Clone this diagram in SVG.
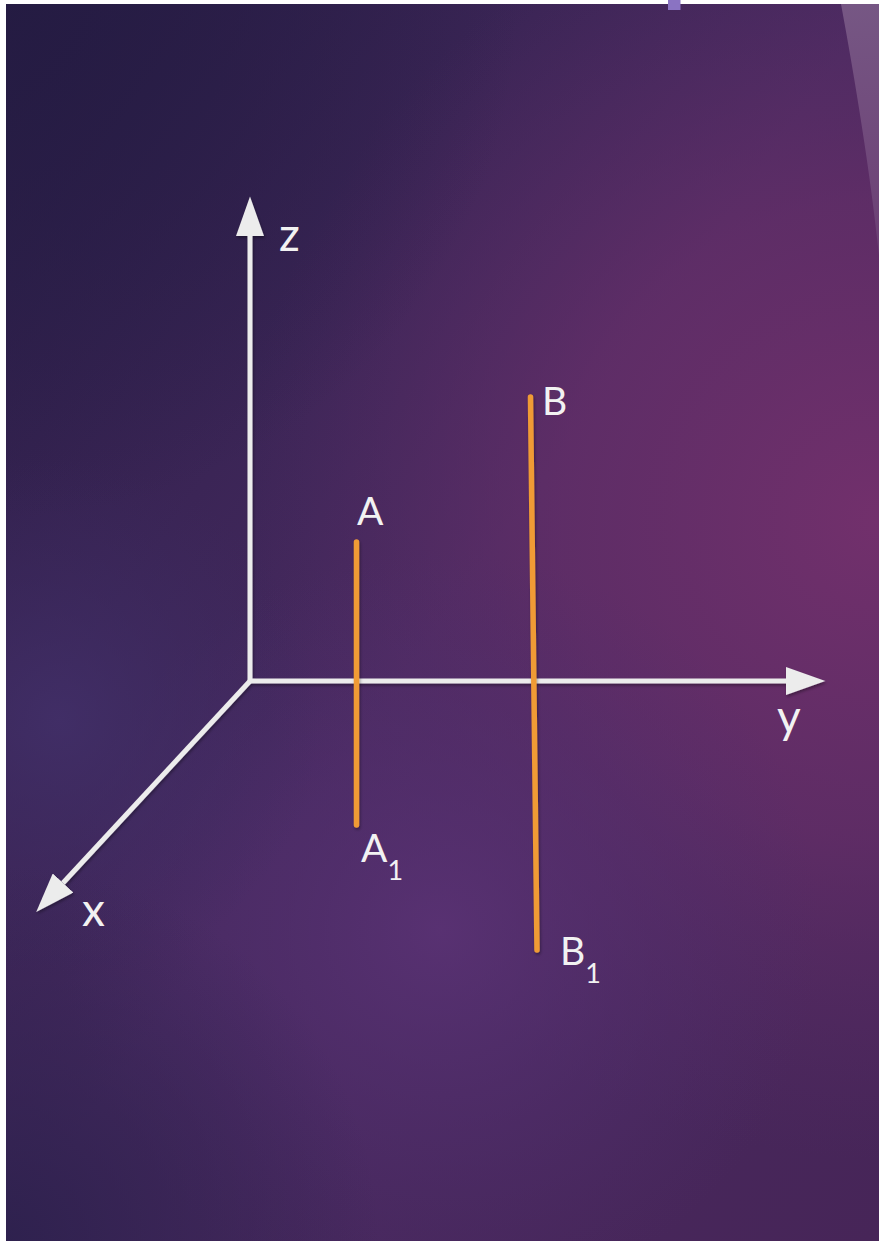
<svg xmlns="http://www.w3.org/2000/svg" width="879" height="1243" viewBox="0 0 879 1243">
<defs>
<style>
.axis{stroke:#ececec;stroke-width:5;fill:none;stroke-linecap:butt}
.seg{stroke:#f09b36;stroke-width:5.5;fill:none;stroke-linecap:round}
.lbl{font-family:Lato,"Liberation Sans",sans-serif;fill:#f2f2f2}
.axl{font-size:46px}
.ptl{font-size:39px}
.sub{font-size:27px}
</style>
<linearGradient id="bg" x1="0" y1="0" x2="1" y2="1">
<stop offset="0" stop-color="#281d46"/>
<stop offset="0.5" stop-color="#472a60"/>
<stop offset="1" stop-color="#472558"/>
</linearGradient>
<radialGradient id="pink" cx="879" cy="520" r="640" gradientUnits="userSpaceOnUse">
<stop offset="0" stop-color="#72306c" stop-opacity="1"/>
<stop offset="0.5" stop-color="#6a2f6a" stop-opacity="0.65"/>
<stop offset="1" stop-color="#5a2c66" stop-opacity="0"/>
</radialGradient>
<radialGradient id="glow" cx="440" cy="930" r="380" gradientUnits="userSpaceOnUse">
<stop offset="0" stop-color="#5a3274" stop-opacity="0.9"/>
<stop offset="1" stop-color="#4e2d6c" stop-opacity="0"/>
</radialGradient>
<radialGradient id="blueL" cx="60" cy="720" r="260" gradientUnits="userSpaceOnUse">
<stop offset="0" stop-color="#42306a" stop-opacity="0.8"/>
<stop offset="1" stop-color="#3a2a60" stop-opacity="0"/>
</radialGradient>
<radialGradient id="dark" cx="0" cy="0" r="520" gradientUnits="userSpaceOnUse">
<stop offset="0" stop-color="#241b42" stop-opacity="0.9"/>
<stop offset="1" stop-color="#241b42" stop-opacity="0"/>
</radialGradient>
<radialGradient id="darkBL" cx="0" cy="1243" r="380" gradientUnits="userSpaceOnUse">
<stop offset="0" stop-color="#2b204c" stop-opacity="0.9"/>
<stop offset="1" stop-color="#2b204c" stop-opacity="0"/>
</radialGradient>
<linearGradient id="band" x1="0" y1="0" x2="0" y2="1">
<stop offset="0" stop-color="#765784"/>
<stop offset="1" stop-color="#6c3f74"/>
</linearGradient>
<filter id="sh" filterUnits="userSpaceOnUse" x="0" y="0" width="879" height="1243">
<feDropShadow dx="1" dy="2" stdDeviation="1.5" flood-color="#000" flood-opacity="0.35"/>
</filter>
<marker id="ah" markerUnits="userSpaceOnUse" markerWidth="40" markerHeight="28" refX="0" refY="13.5" orient="auto" viewBox="0 0 38 27">
<path d="M0,0 L38,13.5 L0,27 Z" fill="#ececec"/>
</marker>
</defs>
<g id="background">
<rect x="0" y="0" width="879" height="1243" fill="#ffffff"/>
<rect x="6" y="4" width="873" height="1237" fill="url(#bg)"/>
<rect x="6" y="4" width="873" height="1237" fill="url(#pink)"/>
<rect x="6" y="4" width="873" height="1237" fill="url(#glow)"/>
<rect x="6" y="4" width="873" height="1237" fill="url(#blueL)"/>
<rect x="6" y="4" width="873" height="1237" fill="url(#dark)"/>
<rect x="6" y="4" width="873" height="1237" fill="url(#darkBL)"/>
<path d="M841,4 C855,80 870,170 879,255 L879,4 Z" fill="url(#band)"/>
<rect x="668" y="0" width="12.5" height="10" fill="#8a73c2"/>
</g>
<g id="connectors" filter="url(#sh)">
<line id="axis-z" class="axis" x1="250" y1="683" x2="250" y2="236" marker-end="url(#ah)"/>
<line id="axis-y" class="axis" x1="248" y1="681" x2="786" y2="681" marker-end="url(#ah)"/>
<line id="axis-x" class="axis" x1="251" y1="680" x2="63" y2="883" marker-end="url(#ah)"/>
</g>
<g id="segment-AA1" filter="url(#sh)">
<line class="seg" x1="356.5" y1="542" x2="356.5" y2="825"/>
</g>
<g id="segment-BB1" filter="url(#sh)">
<line class="seg" x1="530.5" y1="397" x2="537" y2="950"/>
</g>
<g id="label-z"><text class="lbl axl" x="279" y="251">z</text></g>
<g id="label-y"><text class="lbl axl" x="777" y="733">y</text></g>
<g id="label-x"><text class="lbl axl" x="82" y="926">x</text></g>
<g id="label-A"><text class="lbl ptl" x="357" y="525">A</text></g>
<g id="label-A1"><text class="lbl ptl" x="361" y="862">A<tspan class="sub" dy="18">1</tspan></text></g>
<g id="label-B"><text class="lbl ptl" x="542" y="415">B</text></g>
<g id="label-B1"><text class="lbl ptl" x="560" y="965">B<tspan class="sub" dy="18">1</tspan></text></g>
</svg>
